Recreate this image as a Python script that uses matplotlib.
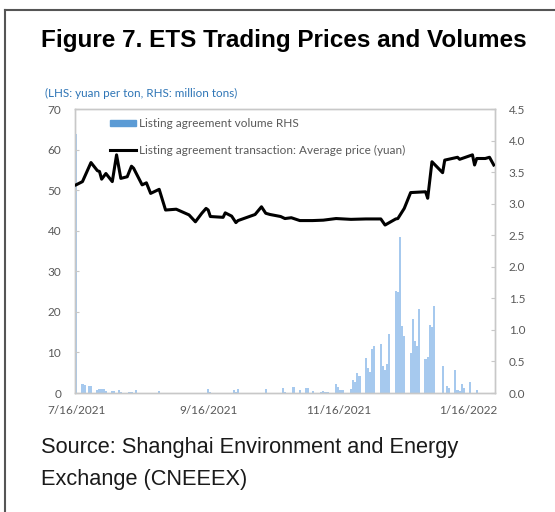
import matplotlib
matplotlib.use("Agg")
import matplotlib.pyplot as plt
from matplotlib.lines import Line2D
from matplotlib.patches import Patch
import pandas as pd

# average price, yuan per ton (LHS)
price_dates = ["2021-07-16", "2021-07-19", "2021-07-23", "2021-07-26", "2021-07-27", "2021-07-28",
               "2021-07-30", "2021-08-02", "2021-08-04", "2021-08-06", "2021-08-09", "2021-08-11",
               "2021-08-12", "2021-08-16", "2021-08-18", "2021-08-20", "2021-08-24", "2021-08-27",
               "2021-09-01", "2021-09-07", "2021-09-10", "2021-09-13", "2021-09-15", "2021-09-16",
               "2021-09-17", "2021-09-23", "2021-09-24", "2021-09-27", "2021-09-29", "2021-09-30",
               "2021-10-08", "2021-10-11", "2021-10-13", "2021-10-15", "2021-10-20", "2021-10-22",
               "2021-10-25", "2021-10-29", "2021-11-04", "2021-11-09", "2021-11-15", "2021-11-22",
               "2021-11-29", "2021-12-06", "2021-12-08", "2021-12-13", "2021-12-14", "2021-12-17",
               "2021-12-20", "2021-12-27", "2021-12-28", "2021-12-30", "2022-01-04", "2022-01-05",
               "2022-01-11", "2022-01-12", "2022-01-18", "2022-01-19", "2022-01-20", "2022-01-24",
               "2022-01-26", "2022-01-28"]
price_values = [51.3, 52.1, 56.8, 54.8, 54.6, 52.7,
                54.1, 52.1, 58.7, 52.9, 53.3, 55.9,
                55.4, 51.3, 51.8, 49.2, 50.2, 45.1,
                45.3, 43.9, 42.2, 44.3, 45.5, 45.1,
                43.5, 43.3, 44.4, 43.6, 42.0, 42.5,
                44.0, 45.9, 44.3, 44.0, 43.5, 43.0,
                43.2, 42.5, 42.5, 42.6, 43.0, 42.8,
                42.9, 42.9, 41.4, 42.9, 43.0, 45.5,
                49.4, 49.6, 48.0, 57.0, 54.3, 57.4,
                58.1, 57.6, 58.7, 56.2, 57.8, 57.8,
                58.1, 56.2]

# volume, million tons (RHS)
vol_dates = ["2021-07-16", "2021-07-19", "2021-07-20", "2021-07-22", "2021-07-23", "2021-07-26",
             "2021-07-27", "2021-07-28", "2021-07-29", "2021-07-30", "2021-08-02", "2021-08-03",
             "2021-08-05", "2021-08-06", "2021-08-10", "2021-08-11", "2021-08-13", "2021-08-24",
             "2021-09-16", "2021-09-17", "2021-09-28", "2021-09-29", "2021-09-30", "2021-10-13",
             "2021-10-21", "2021-10-22", "2021-10-26", "2021-10-29", "2021-11-01", "2021-11-02",
             "2021-11-04", "2021-11-08", "2021-11-09", "2021-11-10", "2021-11-11", "2021-11-15",
             "2021-11-16", "2021-11-17", "2021-11-18", "2021-11-22", "2021-11-23", "2021-11-24",
             "2021-11-25", "2021-11-26", "2021-11-29", "2021-11-30", "2021-12-01", "2021-12-02",
             "2021-12-03", "2021-12-06", "2021-12-07", "2021-12-08", "2021-12-09", "2021-12-10",
             "2021-12-13", "2021-12-14", "2021-12-15", "2021-12-16", "2021-12-17", "2021-12-20",
             "2021-12-21", "2021-12-22", "2021-12-23", "2021-12-24", "2021-12-27", "2021-12-28",
             "2021-12-29", "2021-12-30", "2021-12-31", "2022-01-04", "2022-01-06", "2022-01-07",
             "2022-01-10", "2022-01-11", "2022-01-12", "2022-01-13", "2022-01-14", "2022-01-17",
             "2022-01-20"]
vol_values = [4.10, 0.15, 0.12, 0.11, 0.11, 0.04,
              0.06, 0.07, 0.07, 0.03, 0.03, 0.03,
              0.05, 0.02, 0.02, 0.02, 0.04, 0.03,
              0.06, 0.01, 0.05, 0.02, 0.06, 0.07,
              0.08, 0.02, 0.09, 0.05, 0.08, 0.08,
              0.03, 0.02, 0.03, 0.02, 0.02, 0.14,
              0.09, 0.05, 0.05, 0.07, 0.20, 0.18,
              0.31, 0.27, 0.55, 0.40, 0.34, 0.70,
              0.75, 0.78, 0.43, 0.37, 0.46, 0.94,
              1.61, 1.60, 2.47, 1.06, 0.91, 0.64,
              1.17, 0.83, 0.74, 1.33, 0.54, 0.57,
              1.08, 1.05, 1.38, 0.43, 0.11, 0.08,
              0.37, 0.04, 0.03, 0.14, 0.08, 0.17,
              0.05]

tick_dates = ["2021-07-16", "2021-09-16", "2021-11-16", "2022-01-16"]
tick_labels = ["7/16/2021", "9/16/2021", "11/16/2021", "1/16/2022"]

grey = "#595959"
spine = "#c8c8c8"

fig = plt.figure(figsize=(5.55, 5.12), dpi=100)
fig.patch.set_facecolor("white")

# page frame (left and top edges visible)
fig.add_artist(Line2D([5 / 555, 5 / 555], [0, 1 - 10 / 512], color="#555555", lw=1.5))
fig.add_artist(Line2D([5 / 555, 1], [1 - 10 / 512, 1 - 10 / 512], color="#555555", lw=1.5))

fig.text(41 / 555, 1 - 41 / 512, "Figure 7. ETS Trading Prices and Volumes", fontsize=17.5,
         fontweight="bold", family="Liberation Sans", va="center", ha="left", color="black")
fig.text(45 / 555, 1 - 93 / 512, "(LHS: yuan per ton, RHS: million tons)", fontsize=8.4,
         family="Lato", color="#2e75b6", va="center", ha="left")
fig.text(41 / 555, 1 - 448 / 512, "Source: Shanghai Environment and Energy", fontsize=15.7,
         family="Liberation Sans", va="center", ha="left", color="#1a1a1a")
fig.text(41 / 555, 1 - 479 / 512, "Exchange (CNEEEX)", fontsize=15.7,
         family="Liberation Sans", va="center", ha="left", color="#1a1a1a")

ax = fig.add_axes([75 / 555, 1 - 393 / 512, 420 / 555, 284 / 512])
vd = pd.to_datetime(vol_dates)
pdt = pd.to_datetime(price_dates)
ax.bar(vd, vol_values, width=1.0, color="#a6c9ee", linewidth=0, zorder=2)
ax.set_ylim(0, 4.5)
ax.set_yticks([0.0, 0.5, 1.0, 1.5, 2.0, 2.5, 3.0, 3.5, 4.0, 4.5])
ax.set_yticklabels(["%.1f" % v for v in ax.get_yticks()])

ax2 = ax.twinx()
ax.yaxis.tick_right()
ax2.plot(pdt, price_values, color="black", lw=2.2, zorder=3)
ax2.set_ylim(0, 70)
ax2.set_yticks(range(0, 80, 10))
ax2.yaxis.tick_left()

ax.set_xlim(pd.Timestamp("2021-07-15 12:00"), pd.Timestamp("2022-01-28 14:00"))
ax.set_xticks(pd.to_datetime(tick_dates))
ax.set_xticklabels(tick_labels)

for a in (ax, ax2):
    for s in a.spines.values():
        s.set_color(spine)
        s.set_linewidth(1)
    a.tick_params(axis="y", direction="in", length=3, color=spine, labelsize=8.5,
                  labelcolor=grey, pad=10)
    for lab in a.get_yticklabels():
        lab.set_family("Lato")
ax.tick_params(axis="x", length=0, labelsize=8.5, labelcolor=grey, pad=9)
for lab in ax.get_xticklabels():
    lab.set_family("Lato")

handles = [Patch(color="#5b9bd5"), Line2D([0], [0], color="black", lw=2.2)]
labels = ["Listing agreement volume RHS", "Listing agreement transaction: Average price (yuan)"]
ax2.legend(handles, labels, loc="upper left", bbox_to_anchor=(0.083, 0.968), frameon=False,
           prop={"family": "Lato", "size": 8.5}, labelcolor=grey, handlelength=2.2,
           handleheight=0.4, handletextpad=0.3, labelspacing=1.35, borderpad=0,
           borderaxespad=0)

fig.savefig("out.png", dpi=100)
